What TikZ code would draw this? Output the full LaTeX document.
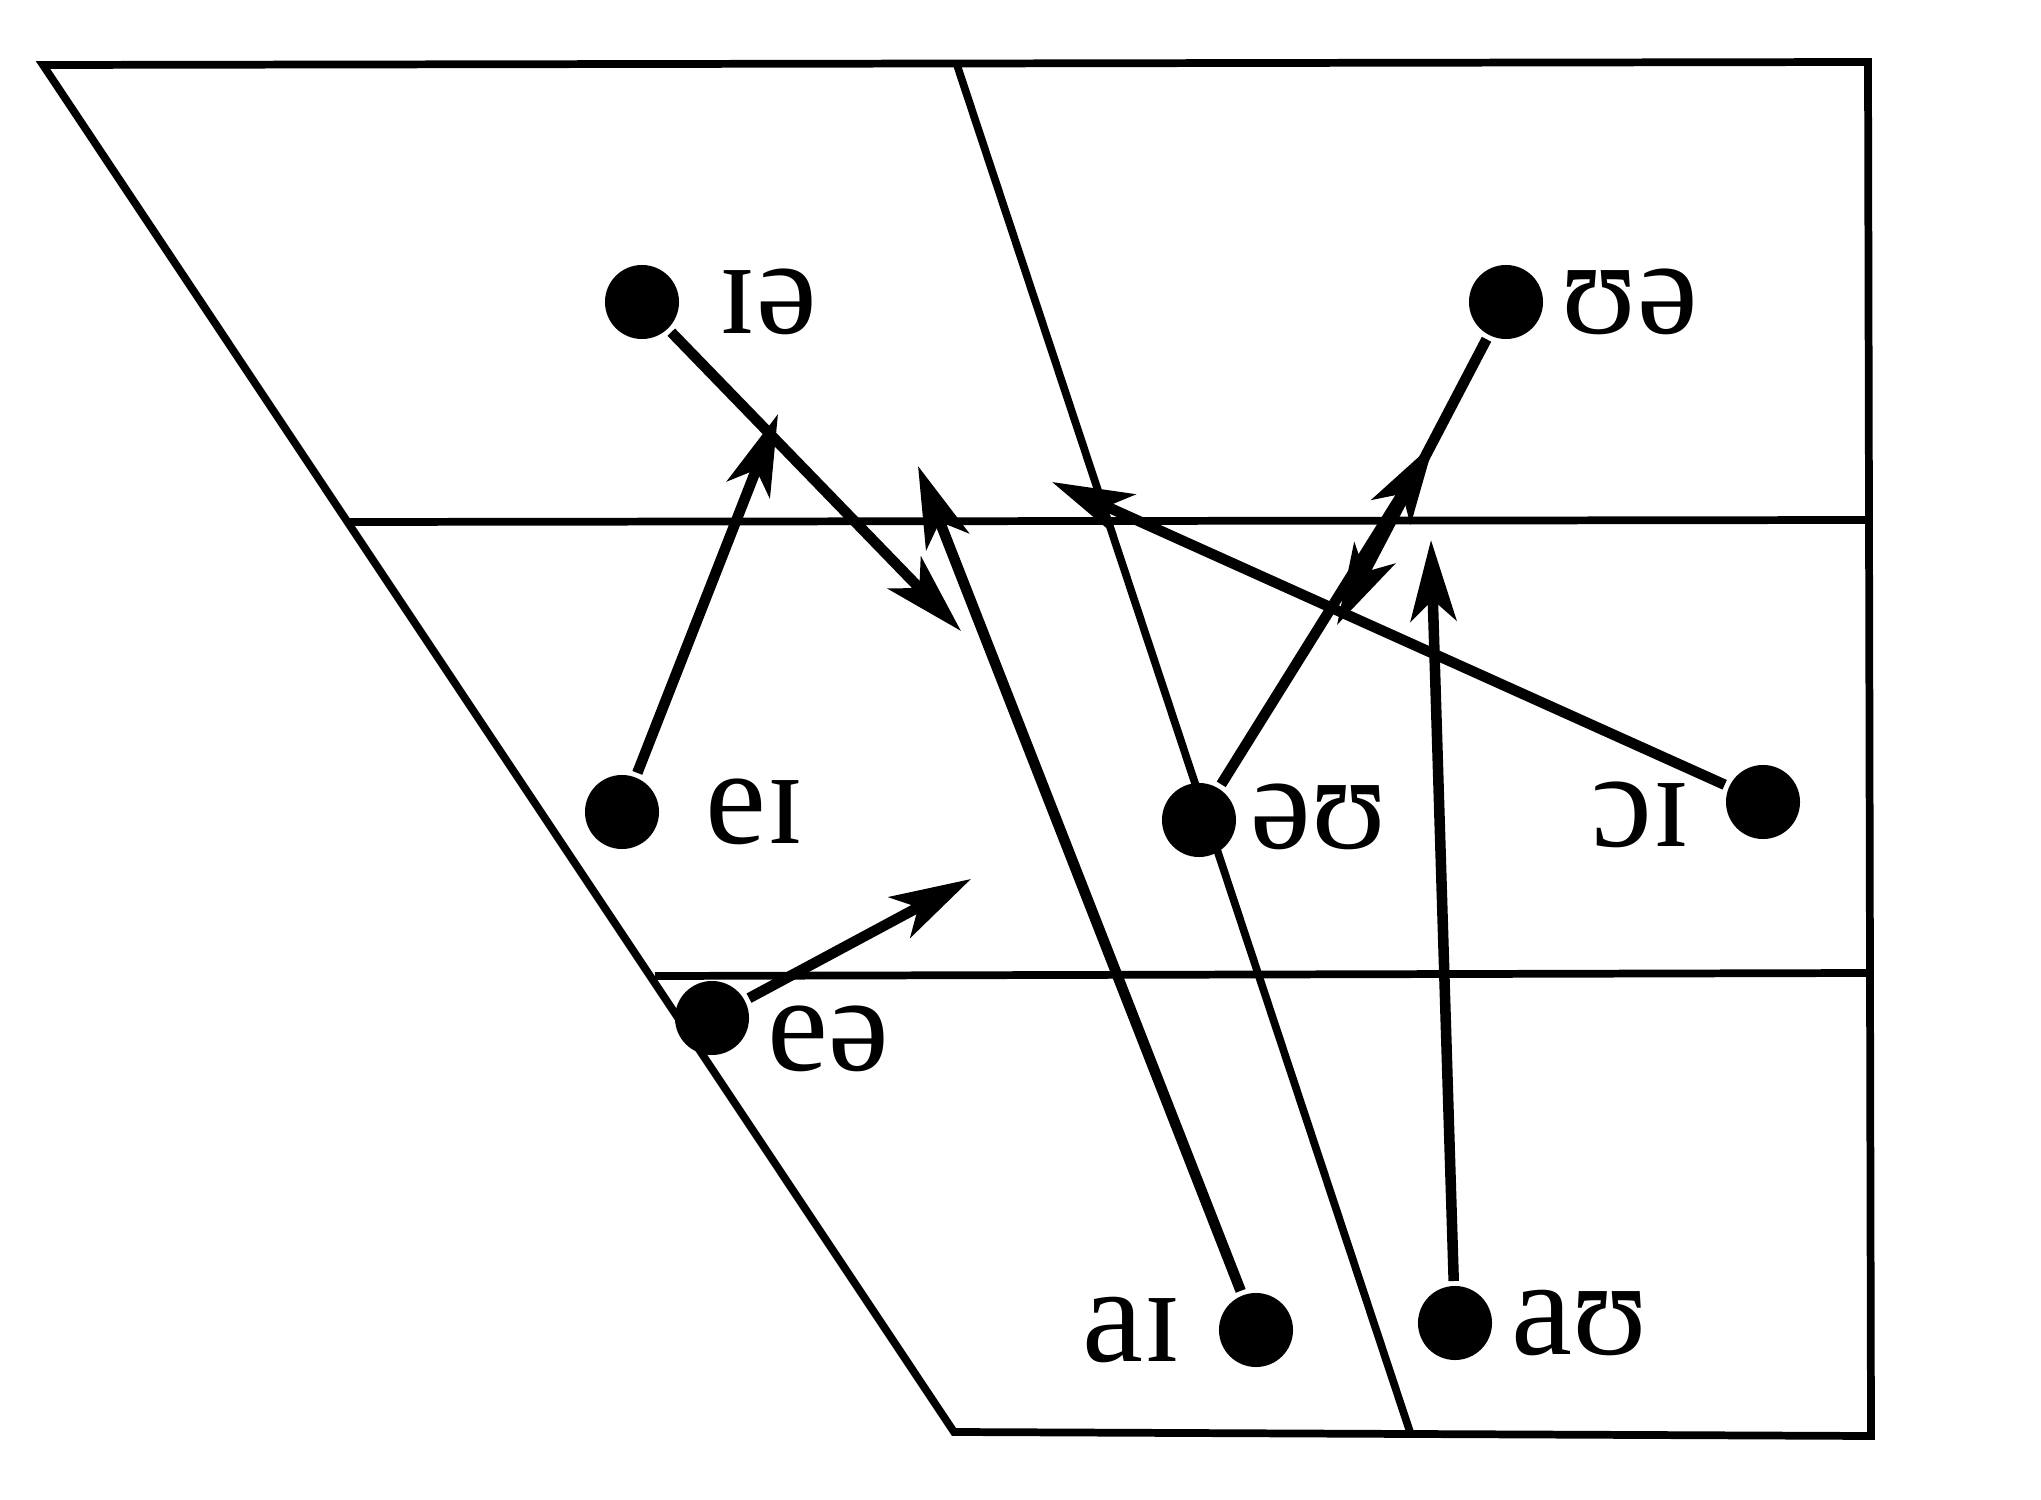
\documentclass[tikz,border=0pt]{standalone}
\usepackage{fontspec}
\setmainfont{Liberation Serif}
\usetikzlibrary{arrows.meta}
\begin{document}
\begin{tikzpicture}[x=0.01cm,y=-0.01cm,
  frame/.style={line width=2.2pt, line join=miter},
  dot/.style={circle, fill=black, minimum size=0.74cm, inner sep=0pt, outer sep=0.05cm},
  lbl/.style={font=\fontsize{39}{46}\selectfont, inner sep=0pt},
  arr/.style={line width=3pt, -{Stealth[length=23pt,width=13pt,inset=6pt]}}]
\useasboundingbox (0,0) rectangle (2041,1500);
% chart frame
\draw[frame] (43,65) -- (1868,62) -- (1871,1436) -- (954,1432) -- cycle;
\draw[frame] (957,65) -- (1410,1432);
\draw[frame] (348,522) -- (1868,520);
\draw[frame] (655,976) -- (1868,973);
% dots
\node[dot] (ia) at (642,302) {};
\node[dot] (ua) at (1506,302) {};
\node[dot] (ei) at (622,812) {};
\node[dot] (ou) at (1199,820) {};
\node[dot] (oi) at (1763,802) {};
\node[dot] (ea) at (712,1018) {};
\node[dot] (ai) at (1256,1330) {};
\node[dot] (au) at (1455,1323) {};
% labels
\node[lbl] (lia) at (768,302) {ɪə};
\node[lbl] (lua) at (1630,302) {ʊə};
\node[lbl] (lei) at (755,812) {eɪ};
\node[lbl] (lou) at (1319,817) {əʊ};
\node[lbl] (loi) at (1641,815) {ɔɪ};
\node[lbl] (lea) at (828,1039) {eə};
\node[lbl] (lai) at (1132,1330) {aɪ};
\node[lbl] (lau) at (1580,1323) {aʊ};
% arrow ends
\coordinate (tia) at (961,631);
\coordinate (tei) at (778,414);
\coordinate (tea) at (971,879);
\coordinate (tai) at (918,466);
\coordinate (tou) at (1434,443);
\coordinate (tua) at (1337,625);
\coordinate (toi) at (1052,482);
\coordinate (tau) at (1431,540);
% arrows
\draw[arr] (ia) -- (tia);
\draw[arr] (ei) -- (tei);
\draw[arr] (ea) -- (tea);
\draw[arr] (ai) -- (tai);
\draw[arr] (ou) -- (tou);
\draw[arr] (ua) -- (tua);
\draw[arr] (oi) -- (toi);
\draw[arr] (au) -- (tau);
\end{tikzpicture}
\end{document}
